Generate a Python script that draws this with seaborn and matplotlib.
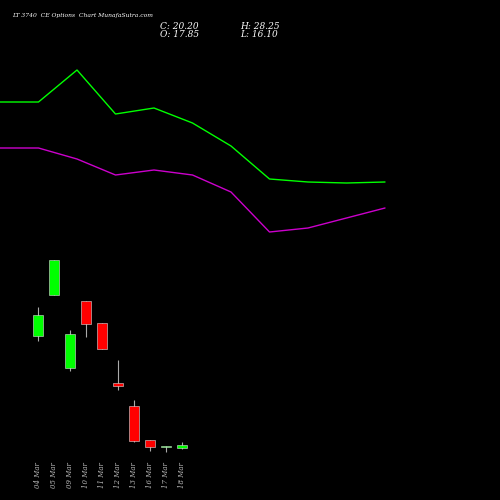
import numpy as np
import pandas as pd
import seaborn as sns
import matplotlib.pyplot as plt

dates = ["04 Mar", "05 Mar", "09 Mar", "10 Mar", "11 Mar", "12 Mar", "13 Mar", "16 Mar", "17 Mar", "18 Mar"]
opens = [107.45, 140.25, 81.85, 135.45, 117.85, 69.85, 51.45, 24.25, 18.5, 17.85]
closes = [124.25, 168.25, 109.05, 117.05, 97.05, 67.45, 23.45, 18.65, 19.3, 20.20]
highs = [130.65, 168.25, 112.25, 135.45, 117.85, 88.25, 56.25, 24.25, 19.3, 23.0]
lows = [103.45, 140.25, 79.45, 106.65, 97.05, 64.25, 22.65, 15.45, 14.5, 17.1]

green_line = [148, 148, 180, 136, 142, 127, 104, 71, 68, 67, 68]
purple_line = [102, 102, 91, 75, 80, 75, 58, 18, 22, 32, 42]

sns.set_style("dark", {"axes.facecolor": "black", "figure.facecolor": "black"})
plt.rcParams['font.family'] = ['DejaVu Serif']

fig = plt.figure(figsize=(5, 5), dpi=100)
ax = fig.add_axes([0, 0, 1, 1])
ax.set_facecolor("black")
ax.set_xlim(-2.375, 28.875)
ax.set_ylim(-23.75, 376.25)
ax.axis("off")

df = pd.DataFrame({"d": range(len(dates)), "o": opens, "c": closes, "h": highs, "l": lows})
for _, r in df.iterrows():
    col = "#00ff00" if r.c >= r.o else "#ff0000"
    ax.vlines(r.d, r.l, r.h, color="#aaaaaa", lw=0.8, zorder=1)
    lo, hi = min(r.o, r.c), max(r.o, r.c)
    ax.bar(r.d, max(hi - lo, 0.8), bottom=lo, width=0.6, color=col,
           edgecolor="#dddddd", linewidth=0.4, zorder=2)

for i, d in enumerate(dates):
    ax.text(i, 0.05, d, rotation=90, color="#bbbbbb", fontsize=5, style="italic",
            ha="center", va="center", transform=ax.get_xaxis_transform())

ax2 = fig.add_axes([0, 0, 1, 1])
ax2.patch.set_alpha(0)
ax2.axis("off")
ax2.set_xlim(0, 500 / 38.5)
ax2.set_ylim(-250, 250)
idx = np.arange(len(green_line))
sns.lineplot(x=idx, y=green_line, ax=ax2, color="#00ff00", lw=1)
sns.lineplot(x=idx, y=purple_line, ax=ax2, color="#cc00cc", lw=1)

fig.text(0.024, 0.966, "LT 3740  CE Options  Chart MunafaSutra.com", color="white",
         fontsize=4.3, style="italic")
fig.text(0.32, 0.942, "C: 20.20", color="white", fontsize=6.5, style="italic")
fig.text(0.32, 0.926, "O: 17.85", color="white", fontsize=6.5, style="italic")
fig.text(0.48, 0.942, "H: 28.25", color="white", fontsize=6.5, style="italic")
fig.text(0.48, 0.926, "L: 16.10", color="white", fontsize=6.5, style="italic")

fig.savefig("out.png", dpi=100, facecolor="black")
